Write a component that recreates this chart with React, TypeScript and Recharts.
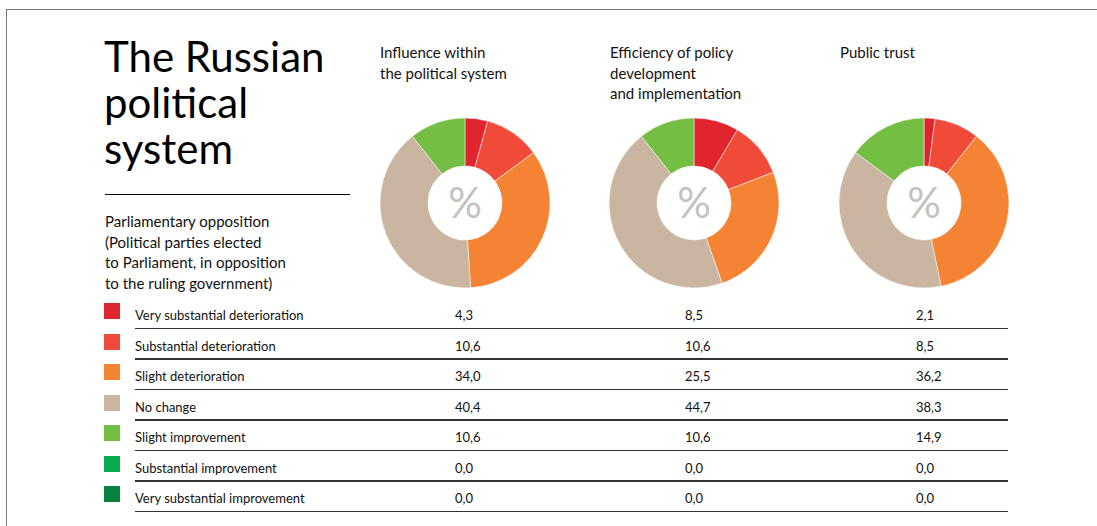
import { PieChart, Pie, Cell, Label } from 'recharts';

const categories = [
  'Very substantial deterioration',
  'Substantial deterioration',
  'Slight deterioration',
  'No change',
  'Slight improvement',
  'Substantial improvement',
  'Very substantial improvement',
];

const colors = ['#e1252f', '#f04a39', '#f48434', '#cab6a0', '#74be43', '#0aad4d', '#0b8141'];

const chartTitles = [
  ['Influence within', 'the political system'],
  ['Efficiency of policy', 'development', 'and implementation'],
  ['Public trust'],
];

const influence = [4.3, 10.6, 34.0, 40.4, 10.6, 0.0, 0.0];
const efficiency = [8.5, 10.6, 25.5, 44.7, 10.6, 0.0, 0.0];
const trust = [2.1, 8.5, 36.2, 38.3, 14.9, 0.0, 0.0];

const series = [influence, efficiency, trust];

const font = 'Lato, "Noto Sans", sans-serif';
const columnX = [380, 610, 840];
const valueX = [455, 685, 916];
const rowTop = 300;
const rowStep = 30.5;

function Donut({ values }: { values: number[] }) {
  const data = categories
    .map((name, i) => ({ name, value: values[i], color: colors[i] }))
    .filter((d) => d.value > 0);

  return (
    <PieChart width={180} height={180} margin={{ top: 0, right: 0, bottom: 0, left: 0 }}>
      <Pie
        data={data}
        dataKey="value"
        nameKey="name"
        cx={90}
        cy={90}
        innerRadius={37}
        outerRadius={85}
        startAngle={90}
        endAngle={-270}
        stroke="#fff"
        strokeWidth={0.5}
        isAnimationActive={false}
      >
        {data.map((d) => (
          <Cell key={d.name} fill={d.color} />
        ))}
        <Label value="%" position="center" fill="#c2c2c2" fontSize={42} fontFamily={font} />
      </Pie>
    </PieChart>
  );
}

const fmt = (v: number) => v.toFixed(1).replace('.', ',');

export default function App() {
  return (
    <div
      style={{
        position: 'absolute',
        left: 0,
        top: 0,
        width: 1097,
        height: 526,
        background: '#fff',
        fontFamily: font,
        color: '#111',
        overflow: 'hidden',
      }}
    >
      {/* frame */}
      <div style={{ position: 'absolute', left: 6, top: 9, right: 0, height: 1, background: '#777' }} />
      <div style={{ position: 'absolute', left: 6, top: 9, bottom: 0, width: 1, background: '#777' }} />

      <div style={{ position: 'absolute', left: 104, top: 33, fontSize: 42, lineHeight: '46px', color: '#000' }}>
        The Russian
        <br />
        political
        <br />
        system
      </div>
      <div style={{ position: 'absolute', left: 105, top: 194, width: 245, height: 1, background: '#000' }} />
      <div style={{ position: 'absolute', left: 105, top: 211, fontSize: 15, lineHeight: '20.5px' }}>
        Parliamentary opposition
        <br />
        (Political parties elected
        <br />
        to Parliament, in opposition
        <br />
        to the ruling government)
      </div>

      {chartTitles.map((lines, c) => (
        <div key={c} style={{ position: 'absolute', left: columnX[c], top: 42, fontSize: 15, lineHeight: '20.5px' }}>
          {lines.map((l) => (
            <div key={l}>{l}</div>
          ))}
        </div>
      ))}

      {series.map((values, c) => (
        <div key={c} style={{ position: 'absolute', left: [375, 604, 834][c], top: 113 }}>
          <Donut values={values} />
        </div>
      ))}

      {categories.map((name, r) => (
        <div key={name}>
          <div
            style={{
              position: 'absolute',
              left: 104,
              top: rowTop + 3 + r * rowStep,
              width: 16,
              height: 16,
              background: colors[r],
            }}
          />
          <div
            style={{
              position: 'absolute',
              left: 135,
              top: rowTop + r * rowStep,
              fontSize: 13,
              lineHeight: '30px',
              height: 30,
            }}
          >
            {name}
          </div>
          {series.map((values, c) => (
            <div
              key={c}
              style={{
                position: 'absolute',
                left: valueX[c],
                top: rowTop + r * rowStep,
                fontSize: 13,
                lineHeight: '30px',
              }}
            >
              {fmt(values[r])}
            </div>
          ))}
          <div
            style={{
              position: 'absolute',
              left: 135,
              top: rowTop + 27.5 + r * rowStep,
              width: 873,
              height: 1.5,
              background: '#333',
            }}
          />
        </div>
      ))}
    </div>
  );
}
